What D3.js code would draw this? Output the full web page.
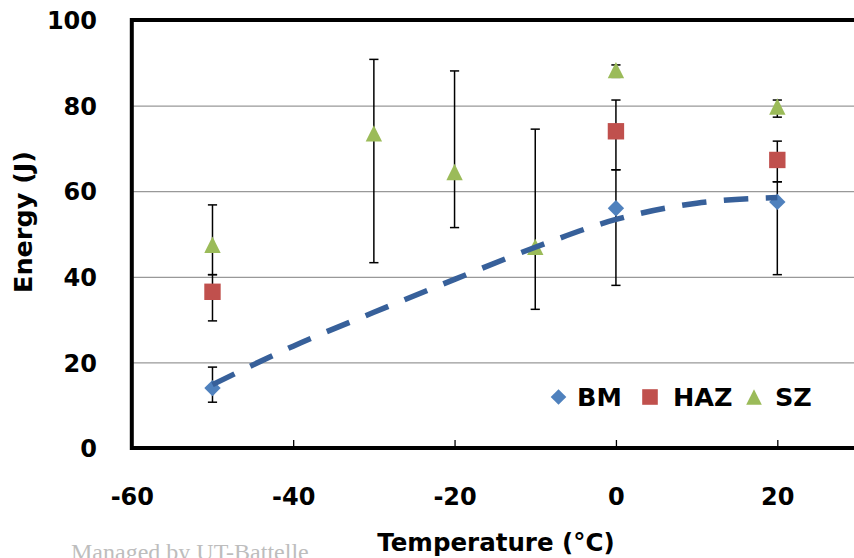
<!DOCTYPE html>
<html>
<head>
<meta charset="utf-8">
<script src="https://cdn.jsdelivr.net/npm/d3@7"></script>
<style>
  body { margin: 0; background: #fff; }
  svg { display: block; }
  text { font-family: "DejaVu Sans", sans-serif; font-weight: bold; }
</style>
</head>
<body>
<div id="chart"></div>
<script>
// values
var bmTemp = [-50, 0, 20];
var bmEnergy = [14, 56, 57.5];
var bmErrUp = [4.9, 9, 4.7];
var bmErrDown = [3.3, 18, 17];

var hazTemp = [-50, 0, 20];
var hazEnergy = [36.5, 74, 67.3];
var hazErrUp = [4, 7.3, 4.4];
var hazErrDown = [6.8, 9, 5.1];

var szTemp = [-50, -30, -20, -10, 0, 20];
var szEnergy = [47.5, 73.5, 64.5, 47, 88.3, 79.8];
var szErrUp = [9.3, 17.3, 23.6, 27.5, 1.2, 1.5];
var szErrDown = [7, 30.2, 13, 14.6, 1.7, 2.5];

// dashed trend line for BM
var trendTemp = [-50, -40, -30, -20, -10, 0, 10, 20];
var trendEnergy = [14.8, 23.8, 31.7, 39.4, 46.9, 53.4, 57.2, 58.5];

var xTicks = [-60, -40, -20, 0, 20];
var yTicks = [0, 20, 40, 60, 80, 100];
var seriesNames = ["BM", "HAZ", "SZ"];
var seriesColors = ["#4F81BD", "#C0504D", "#9BBB59"];

var width = 854, height = 558;
var plotL = 131.8, plotR = 858, plotT = 20, plotB = 448;

var svg = d3.select("#chart").append("svg")
    .attr("width", width)
    .attr("height", height);

var x = d3.scaleLinear().domain([-60, 30]).range([plotL, plotR]);
var y = d3.scaleLinear().domain([0, 100]).range([plotB, plotT]);

function build(temp, energy, up, down){
  return temp.map(function(t, i){
    return {t: t, e: energy[i], up: up[i], down: down[i]};
  });
}
var series = [
  build(bmTemp, bmEnergy, bmErrUp, bmErrDown),
  build(hazTemp, hazEnergy, hazErrUp, hazErrDown),
  build(szTemp, szEnergy, szErrUp, szErrDown)
];

// gridlines
svg.append("g")
    .attr("class", "grid")
    .attr("transform", "translate(" + plotL + ",0)")
    .call(d3.axisLeft(y).tickValues(yTicks).tickSize(-(plotR - plotL)).tickFormat(""))
    .call(function(g){
      g.select(".domain").remove();
      g.selectAll("line").attr("stroke", "#999").attr("stroke-width", 1.2);
    });

// markers
function markerPath(k, s){
  if(k == 0) return "M0," + (-s) + "L" + s + ",0L0," + s + "L" + (-s) + ",0Z";
  if(k == 1) return "M" + (-s) + "," + (-s) + "H" + s + "V" + s + "H" + (-s) + "Z";
  return "M0," + (-s) + "L" + s + "," + s + "L" + (-s) + "," + s + "Z";
}

// error bars
var cap = 4.6;
series.forEach(function(data){
  var eb = svg.append("g").attr("class", "errorbars")
      .selectAll("g").data(data).enter().append("g")
      .attr("stroke", "#000").attr("stroke-width", 1.5);
  eb.append("line")
      .attr("x1", function(d){ return x(d.t); })
      .attr("x2", function(d){ return x(d.t); })
      .attr("y1", function(d){ return y(d.e + d.up); })
      .attr("y2", function(d){ return y(d.e - d.down); });
  eb.append("line")
      .attr("x1", function(d){ return x(d.t) - cap; })
      .attr("x2", function(d){ return x(d.t) + cap; })
      .attr("y1", function(d){ return y(d.e + d.up); })
      .attr("y2", function(d){ return y(d.e + d.up); });
  eb.append("line")
      .attr("x1", function(d){ return x(d.t) - cap; })
      .attr("x2", function(d){ return x(d.t) + cap; })
      .attr("y1", function(d){ return y(d.e - d.down); })
      .attr("y2", function(d){ return y(d.e - d.down); });
});

series.forEach(function(data, k){
  svg.append("g").attr("class", "points")
      .selectAll("path").data(data).enter().append("path")
      .attr("d", markerPath(k, 8.2))
      .attr("transform", function(d){ return "translate(" + x(d.t) + "," + y(d.e) + ")"; })
      .attr("fill", seriesColors[k]);
});

// trend line
var trend = trendTemp.map(function(t, i){ return [t, trendEnergy[i]]; });
var line = d3.line()
    .x(function(d){ return x(d[0]); })
    .y(function(d){ return y(d[1]); })
    .curve(d3.curveMonotoneX);
svg.append("path")
    .datum(trend)
    .attr("d", line)
    .attr("fill", "none")
    .attr("stroke", "#37609A")
    .attr("stroke-width", 5.5)
    .attr("stroke-dasharray", "24.5,17.5");

// axes (plain hyphen for negatives, like the original)
var fmt = function(d){ return String(d); };

var xAxis = svg.append("g")
    .attr("transform", "translate(0," + plotB + ")")
    .call(d3.axisBottom(x).tickValues(xTicks).tickFormat(fmt).tickSizeInner(-8).tickSizeOuter(0).tickPadding(0));
xAxis.select(".domain").remove();
xAxis.selectAll("line").attr("stroke", "#000").attr("stroke-width", 1.3);
xAxis.selectAll("text")
    .attr("y", 57).attr("dy", null)
    .attr("font-size", 24).attr("fill", "#000")
    .style("font-family", "DejaVu Sans").style("font-weight", "bold");

var yAxis = svg.append("g")
    .attr("transform", "translate(" + plotL + ",0)")
    .call(d3.axisLeft(y).tickValues(yTicks).tickFormat(fmt).tickSize(0).tickPadding(0));
yAxis.select(".domain").remove();
yAxis.selectAll("text")
    .attr("x", 97 - plotL).attr("dy", "0.36em")
    .attr("font-size", 24).attr("fill", "#000")
    .style("font-family", "DejaVu Sans").style("font-weight", "bold");

// plot border
svg.append("rect")
    .attr("x", plotL).attr("y", plotT)
    .attr("width", plotR - plotL).attr("height", plotB - plotT)
    .attr("fill", "none").attr("stroke", "#000").attr("stroke-width", 4);

// titles
svg.append("text")
    .attr("x", 496).attr("y", 551)
    .attr("text-anchor", "middle")
    .attr("font-size", 24.5)
    .text("Temperature (°C)");

svg.append("text")
    .attr("transform", "translate(32,222) rotate(-90)")
    .attr("text-anchor", "middle")
    .attr("font-size", 25.5)
    .text("Energy (J)");

// legend
var legendX = [558.5, 650, 754];
var legend = svg.append("g").attr("class", "legend")
    .selectAll("g").data(seriesNames).enter().append("g")
    .attr("transform", function(d, i){ return "translate(" + legendX[i] + ",397)"; });
legend.append("path")
    .attr("d", function(d, i){ return markerPath(i, 7.8); })
    .attr("fill", function(d, i){ return seriesColors[i]; });
legend.append("text")
    .attr("x", function(d, i){ return i == 0 ? 18.5 : (i == 1 ? 23 : 21); })
    .attr("y", 8.5)
    .attr("font-size", 25.5)
    .text(function(d){ return d; });

// watermark
svg.append("text")
    .attr("x", 71).attr("y", 560)
    .attr("font-size", 24)
    .style("font-family", "Liberation Serif, serif")
    .style("font-weight", "normal")
    .attr("fill", "#BDBDBD")
    .text("Managed by UT-Battelle");
</script>
</body>
</html>
